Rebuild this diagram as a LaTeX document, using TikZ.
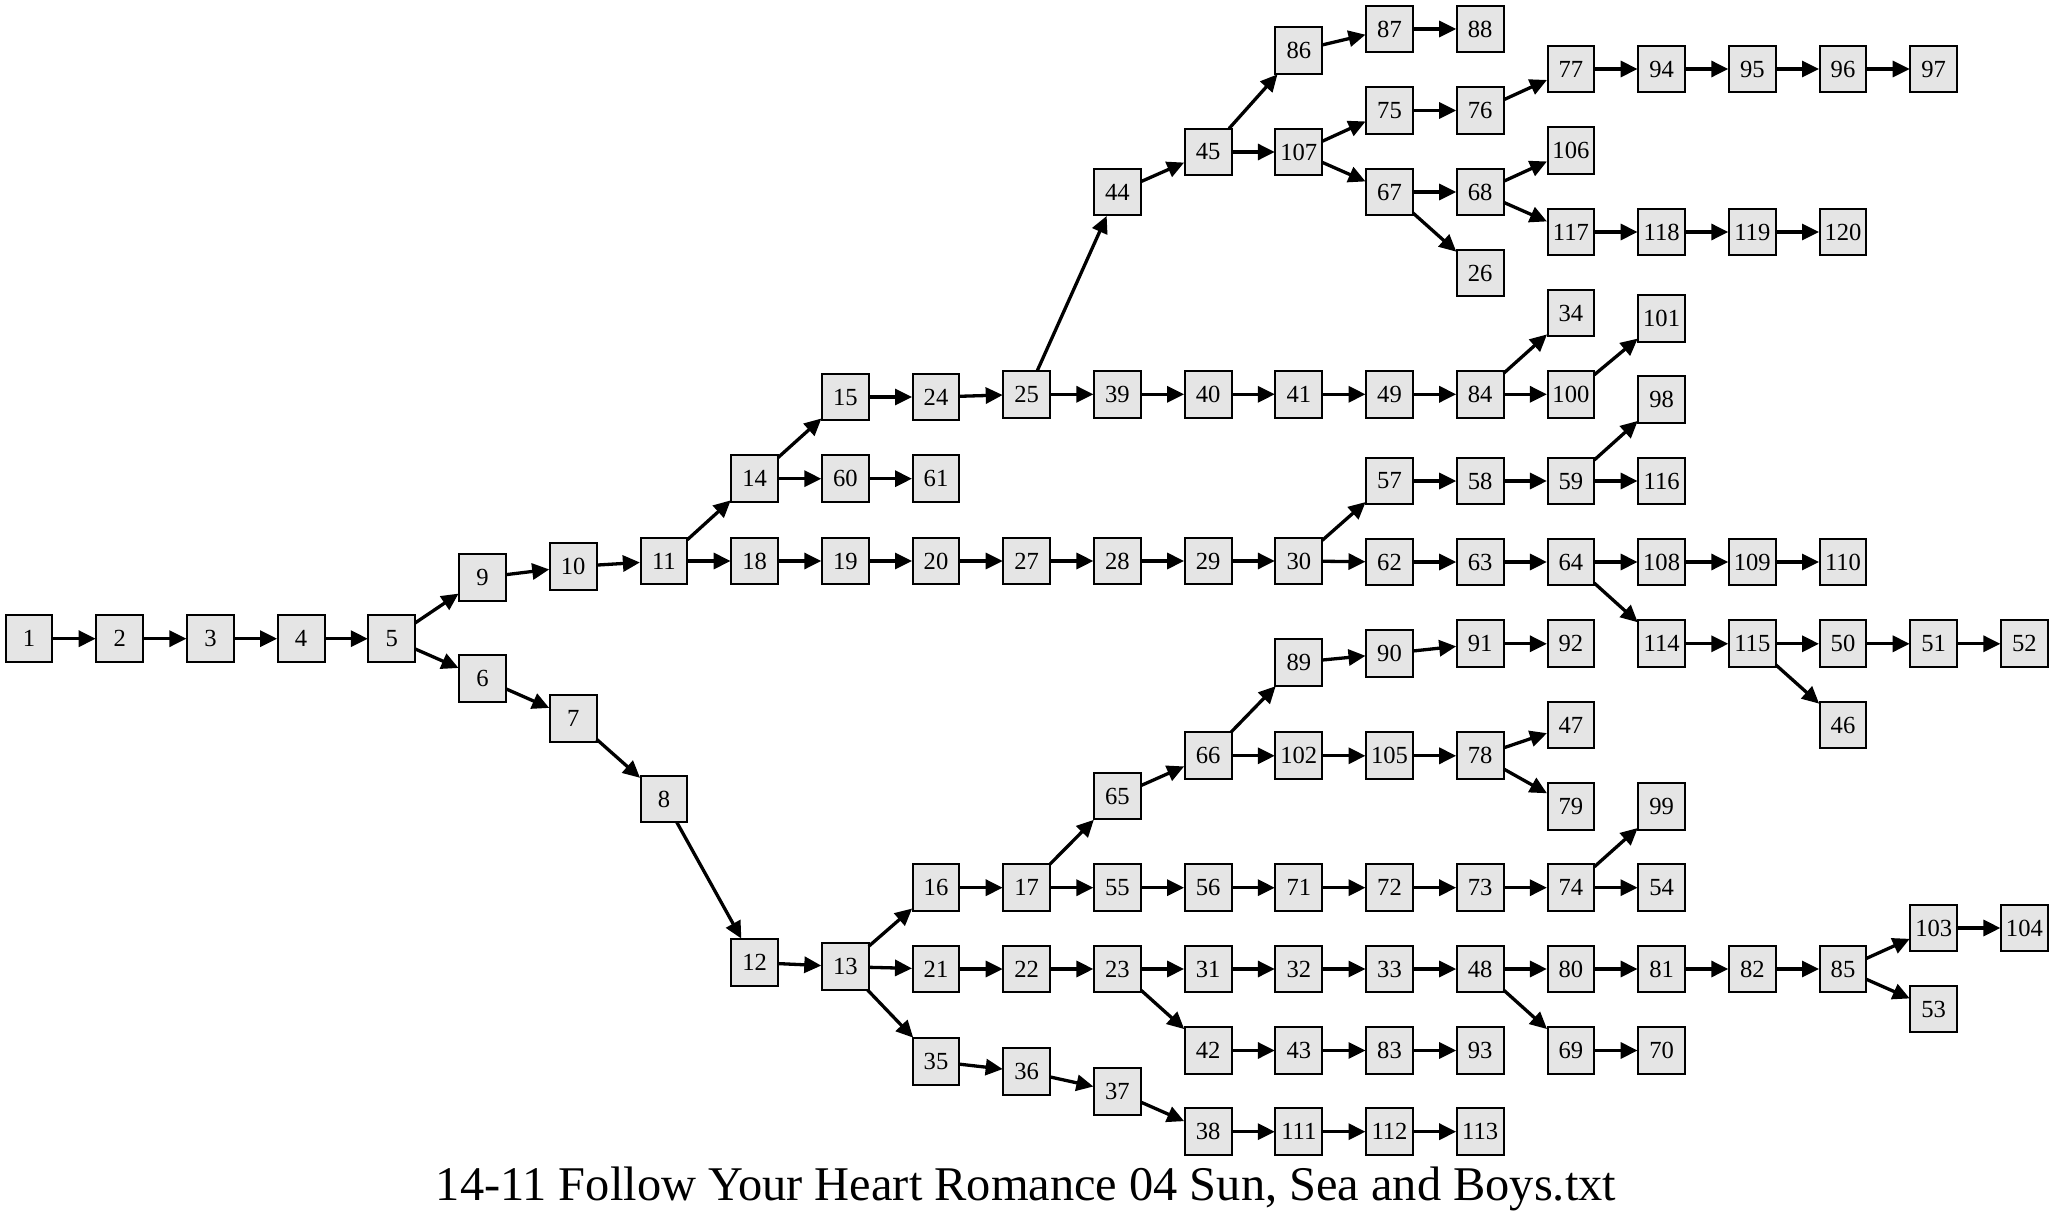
\documentclass[tikz,border=0pt]{standalone}
\usepackage{fontspec}
\setmainfont{Liberation Serif}
\usetikzlibrary{arrows.meta}
\definecolor{boxfill}{HTML}{E5E5E5}
\tikzset{
  box/.style={draw=black, fill=boxfill, line width=1pt, minimum width=23.4pt, minimum height=23.4pt, inner sep=0pt, outer sep=0pt, font=\fontsize{12.3pt}{14pt}\selectfont},
  edge/.style={line width=1.65pt, -{Triangle[length=8.5pt,width=8pt]}, shorten >=0.3pt},
  titletext/.style={font=\fontsize{24.2pt}{28pt}\selectfont, anchor=base, inner sep=0pt}
}
\newcommand\mknode[3]{\node[box] (n#1) at ({29+90.7*#2},#3) {#1};}
\begin{document}
\begin{tikzpicture}[x=0.5pt,y=-0.5pt]
\useasboundingbox (0,0) rectangle (2053,1220);
\mknode{1}{0}{638.7}
\mknode{2}{1}{638.7}
\mknode{3}{2}{638.7}
\mknode{4}{3}{638.7}
\mknode{5}{4}{638.7}
\mknode{9}{5}{577.5}
\mknode{6}{5}{678.5}
\mknode{10}{6}{566.5}
\mknode{7}{6}{718.5}
\mknode{11}{7}{561}
\mknode{8}{7}{799}
\mknode{14}{8}{478.7}
\mknode{18}{8}{561}
\mknode{12}{8}{962.5}
\mknode{15}{9}{397}
\mknode{60}{9}{478.7}
\mknode{19}{9}{561}
\mknode{13}{9}{966.7}
\mknode{24}{10}{397}
\mknode{61}{10}{478.7}
\mknode{20}{10}{561}
\mknode{16}{10}{887.7}
\mknode{21}{10}{969}
\mknode{35}{10}{1061.5}
\mknode{25}{11}{394.3}
\mknode{27}{11}{561}
\mknode{17}{11}{887.7}
\mknode{22}{11}{969}
\mknode{36}{11}{1071.8}
\mknode{44}{12}{192}
\mknode{39}{12}{394.3}
\mknode{28}{12}{561}
\mknode{65}{12}{796}
\mknode{55}{12}{887.7}
\mknode{23}{12}{969}
\mknode{37}{12}{1091.8}
\mknode{45}{13}{152}
\mknode{40}{13}{394.3}
\mknode{29}{13}{561}
\mknode{66}{13}{755.8}
\mknode{56}{13}{887.7}
\mknode{31}{13}{969}
\mknode{42}{13}{1050.5}
\mknode{38}{13}{1131.7}
\mknode{86}{14}{50.5}
\mknode{107}{14}{152}
\mknode{41}{14}{394.3}
\mknode{30}{14}{561}
\mknode{89}{14}{662.3}
\mknode{102}{14}{755.8}
\mknode{71}{14}{887.7}
\mknode{32}{14}{969}
\mknode{43}{14}{1050.5}
\mknode{111}{14}{1131.7}
\mknode{87}{15}{29}
\mknode{75}{15}{110.5}
\mknode{67}{15}{192}
\mknode{49}{15}{394.3}
\mknode{57}{15}{481}
\mknode{62}{15}{562}
\mknode{90}{15}{653.5}
\mknode{105}{15}{755.8}
\mknode{72}{15}{887.7}
\mknode{33}{15}{969}
\mknode{83}{15}{1050.5}
\mknode{112}{15}{1131.7}
\mknode{88}{16}{29}
\mknode{76}{16}{110.5}
\mknode{68}{16}{192}
\mknode{26}{16}{273}
\mknode{84}{16}{394.3}
\mknode{58}{16}{481}
\mknode{63}{16}{562}
\mknode{91}{16}{643.8}
\mknode{78}{16}{755.8}
\mknode{73}{16}{887.7}
\mknode{48}{16}{969}
\mknode{93}{16}{1050.5}
\mknode{113}{16}{1131.7}
\mknode{77}{17}{69}
\mknode{106}{17}{150.5}
\mknode{117}{17}{232}
\mknode{34}{17}{313}
\mknode{100}{17}{394.3}
\mknode{59}{17}{481}
\mknode{64}{17}{562}
\mknode{92}{17}{643.8}
\mknode{47}{17}{725}
\mknode{79}{17}{806.7}
\mknode{74}{17}{887.7}
\mknode{80}{17}{969}
\mknode{69}{17}{1050.5}
\mknode{94}{18}{69}
\mknode{118}{18}{232}
\mknode{101}{18}{318.7}
\mknode{98}{18}{399.5}
\mknode{116}{18}{481}
\mknode{108}{18}{562}
\mknode{114}{18}{643.8}
\mknode{99}{18}{806.7}
\mknode{54}{18}{887.7}
\mknode{81}{18}{969}
\mknode{70}{18}{1050.5}
\mknode{95}{19}{69}
\mknode{119}{19}{232}
\mknode{109}{19}{562}
\mknode{115}{19}{643.8}
\mknode{82}{19}{969}
\mknode{96}{20}{69}
\mknode{120}{20}{232}
\mknode{110}{20}{562}
\mknode{50}{20}{643.8}
\mknode{46}{20}{725}
\mknode{85}{20}{969}
\mknode{97}{21}{69}
\mknode{51}{21}{643.8}
\mknode{103}{21}{928}
\mknode{53}{21}{1009}
\mknode{52}{22}{643.8}
\mknode{104}{22}{928}
\foreach \a/\b in {1/2,2/3,3/4,4/5,5/9,5/6,9/10,10/11,6/7,7/8,8/12,11/14,11/18,14/15,14/60,60/61,15/24,24/25,25/44,25/39,39/40,40/41,41/49,49/84,84/34,84/100,100/101,44/45,45/86,45/107,86/87,87/88,107/75,107/67,75/76,76/77,77/94,94/95,95/96,96/97,67/68,67/26,68/106,68/117,117/118,118/119,119/120,18/19,19/20,20/27,27/28,28/29,29/30,30/57,30/62,57/58,58/59,59/98,59/116,62/63,63/64,64/108,64/114,108/109,109/110,114/115,115/50,115/46,50/51,51/52,12/13,13/16,13/21,13/35,16/17,17/65,17/55,65/66,66/89,66/102,89/90,90/91,91/92,102/105,105/78,78/47,78/79,55/56,56/71,71/72,72/73,73/74,74/99,74/54,21/22,22/23,23/31,23/42,31/32,32/33,33/48,48/80,48/69,80/81,81/82,82/85,85/103,85/53,103/104,69/70,42/43,43/83,83/93,35/36,36/37,37/38,38/111,111/112,112/113}
  \draw[edge] (n\a) -- (n\b);
\node[titletext] (title) at (1026,1200) {14-11 Follow Your Heart Romance 04 Sun, Sea and Boys.txt};
\end{tikzpicture}
\end{document}
